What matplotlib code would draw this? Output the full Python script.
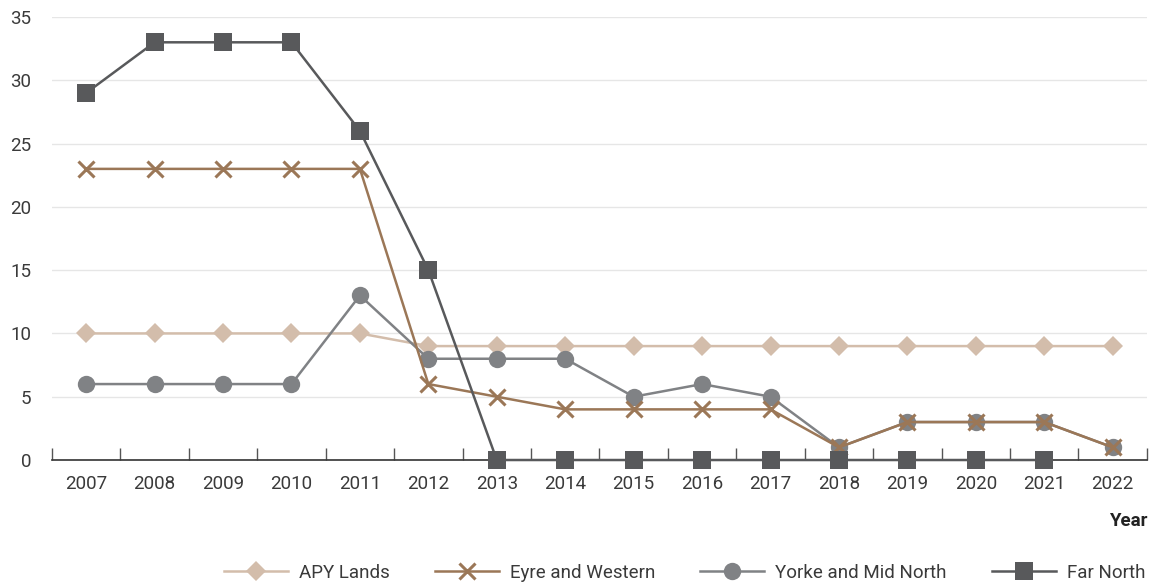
import matplotlib.pyplot as plt
import numpy as np

FIGURE_SIZE = (11.55, 5.86)
FIGURE_DPI = 100

plt.rcParams["font.family"] = ["Roboto", "DejaVu Sans"]

years = ["2007", "2008", "2009", "2010", "2011", "2012", "2013", "2014",
         "2015", "2016", "2017", "2018", "2019", "2020", "2021", "2022"]

apy_lands = [10, 10, 10, 10, 10, 9, 9, 9, 9, 9, 9, 9, 9, 9, 9, 9]
eyre_western = [23, 23, 23, 23, 23, 6, 5, 4, 4, 4, 4, 1, 3, 3, 3, 1]
yorke_mid_north = [6, 6, 6, 6, 13, 8, 8, 8, 5, 6, 5, 1, 3, 3, 3, 1]
far_north = [29, 33, 33, 33, 26, 15, 0, 0, 0, 0, 0, 0, 0, 0, 0, np.nan]

SERIES = [
    ("APY Lands", apy_lands, "#d3bdab", "D", 10, 3),
    ("Eyre and Western", eyre_western, "#9b7757", "x", 11, 5),
    ("Yorke and Mid North", yorke_mid_north, "#808285", "o", 12.5, 4),
    ("Far North", far_north, "#58595b", "s", 12.5, 6),
]

TEXT_COLOR = "#3a3a3a"
FONT_SIZE = 13.5


def main():
    fig = plt.figure(figsize=FIGURE_SIZE, dpi=FIGURE_DPI)
    ax = fig.add_axes([0.045, 0.215, 0.948, 0.756])
    x = np.arange(len(years))

    handles = []
    for label, values, color, marker, ms, z in SERIES:
        mew = 2.2 if marker == "x" else 0
        (h,) = ax.plot(x, values, color=color, lw=1.8, marker=marker, ms=ms,
                       mew=mew, mec=color, mfc=color, label=label, zorder=z,
                       clip_on=False)
        handles.append(h)

    ax.set_xlim(-0.5, len(years) - 0.5)
    ax.set_ylim(0, 35)
    ax.set_yticks(np.arange(0, 36, 5))
    ax.set_xticks(x)
    ax.set_xticklabels(years)
    ax.set_xticks(np.arange(-0.5, len(years)), minor=True)

    ax.tick_params(axis="x", which="major", length=0, pad=11,
                   labelsize=FONT_SIZE, labelcolor=TEXT_COLOR)
    ax.tick_params(axis="x", which="minor", direction="in", length=9,
                   width=1, color="#555555")
    ax.tick_params(axis="y", length=0, pad=15, labelsize=FONT_SIZE,
                   labelcolor=TEXT_COLOR)

    for side in ["top", "right", "left"]:
        ax.spines[side].set_visible(False)
    ax.spines["bottom"].set_color("#333333")
    ax.spines["bottom"].set_linewidth(1.2)

    ax.yaxis.grid(True, color="#e6e6e6", lw=1)
    ax.set_axisbelow(True)

    ax.text(1.0, -0.138, "Year", transform=ax.transAxes, ha="right", va="center",
            fontsize=FONT_SIZE, fontweight="bold", color="#222222")

    fig.legend(handles=handles, loc="lower center", ncol=4,
               bbox_to_anchor=(0.593, -0.022), frameon=False,
               handlelength=3.4, columnspacing=2.4, handletextpad=0.6,
               fontsize=FONT_SIZE, labelcolor=TEXT_COLOR)

    fig.savefig("out.png", dpi=FIGURE_DPI)


if __name__ == "__main__":
    main()
